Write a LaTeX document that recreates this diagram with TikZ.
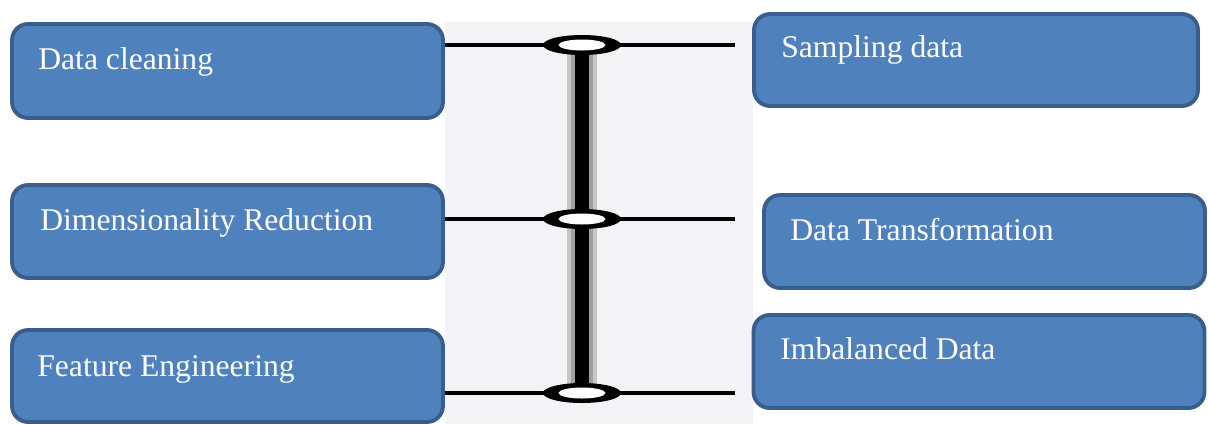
\documentclass[tikz,border=0pt]{standalone}
\usepackage{fontspec}
\setmainfont{Liberation Serif}
\usetikzlibrary{positioning,shapes.geometric}
\definecolor{stepBlue}{RGB}{79,129,189}
\definecolor{stepEdge}{RGB}{58,94,140}
\definecolor{panelGray}{RGB}{243,243,245}
\tikzset{
    taskbox/.style={
        draw=stepEdge,
        line width=2.2pt,
        fill=stepBlue,
        rounded corners=0.32cm,
        inner sep=0pt
    },
    tasklabel/.style={
        anchor=base west,
        inner sep=0pt,
        text=white,
        font=\rmfamily\fontsize{18}{20}\selectfont
    },
    hubring/.style={ellipse, fill=black, minimum width=1.56cm, minimum height=0.40cm, inner sep=0pt},
    hubhole/.style={ellipse, fill=white, minimum width=0.94cm, minimum height=0.22cm, inner sep=0pt},
    link/.style={line width=2pt}
}

\begin{document}
\begin{tikzpicture}[x=0.02cm, y=-0.02cm]
\useasboundingbox (0,0) rectangle (1209,424);
\fill[panelGray] (445,22) rectangle (753,424);

% left column
\node[taskbox, minimum width=8.62cm, minimum height=1.88cm] (clean) at (227.5,71) {};
\node[taskbox, minimum width=8.62cm, minimum height=1.86cm] (dimred) at (227.5,231.5) {};
\node[taskbox, minimum width=8.62cm, minimum height=1.84cm] (feateng) at (227.5,376) {};
\node[tasklabel] (cleanText) at (38,69) {Data cleaning};
\node[tasklabel] (dimredText) at (40,230) {Dimensionality Reduction};
\node[tasklabel] (featengText) at (37,376) {Feature Engineering};

% right column
\node[taskbox, minimum width=8.88cm, minimum height=1.84cm] (sampling) at (976,60) {};
\node[taskbox, minimum width=8.82cm, minimum height=1.86cm] (transform) at (984.5,241.5) {};
\node[taskbox, minimum width=9.02cm, minimum height=1.86cm] (imbal) at (979,361.5) {};
\node[tasklabel] (samplingText) at (781,57) {Sampling data};
\node[tasklabel] (transformText) at (790,240) {Data Transformation};
\node[tasklabel] (imbalText) at (780,359) {Imbalanced Data};

% the shared bus
\coordinate (c1) at (582,45);
\coordinate (c2) at (582,219);
\coordinate (c3) at (582,393);
\coordinate (e1) at (735,45);
\coordinate (e2) at (735,219);
\coordinate (e3) at (735,393);
\draw[gray!45, line width=17pt] (c1) -- (c3);
\draw[gray!75, line width=12pt] (c1) -- (c3);
\draw[black, line width=8pt] (c1) -- (c3);
\draw[link] (clean.east |- c1) -- (e1);
\draw[link] (dimred.east |- c2) -- (e2);
\draw[link] (feateng.east |- c3) -- (e3);
\foreach \i in {1,2,3}{
    \node[hubring] (hub\i) at (c\i) {};
    \node[hubhole] (hole\i) at (hub\i) {};
}
\end{tikzpicture}
\end{document}
